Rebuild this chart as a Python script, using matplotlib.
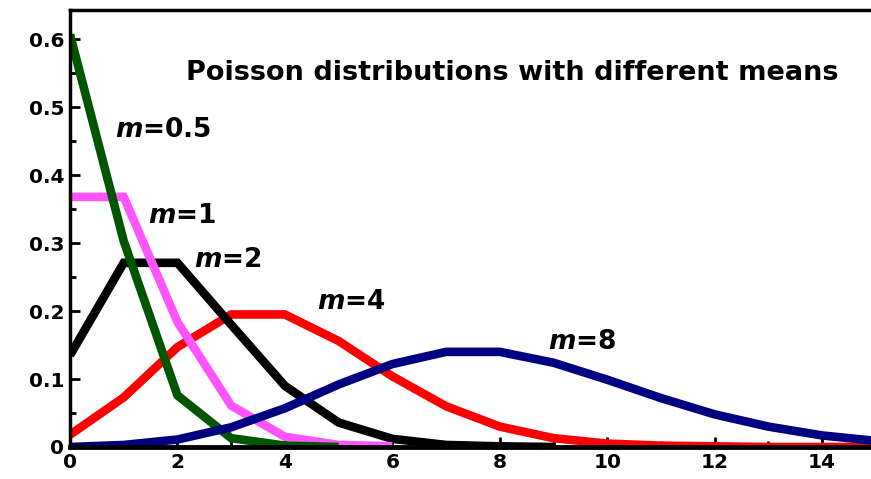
import matplotlib
matplotlib.use("Agg")
import matplotlib.pyplot as plt
from matplotlib.ticker import MultipleLocator, FixedLocator

# Data
k05 = [0, 1, 2, 3, 4, 5]
p05 = [0.607, 0.303, 0.076, 0.013, 0.002, 0.000]
k1 = [0, 1, 2, 3, 4, 5, 6]
p1 = [0.368, 0.368, 0.184, 0.061, 0.015, 0.003, 0.001]
k2 = [0, 1, 2, 3, 4, 5, 6, 7, 8, 9]
p2 = [0.135, 0.271, 0.271, 0.180, 0.090, 0.036, 0.012, 0.003, 0.001, 0.000]
k4 = list(range(16))
p4 = [0.018, 0.073, 0.147, 0.195, 0.195, 0.156, 0.104, 0.060, 0.030, 0.013,
      0.005, 0.002, 0.001, 0.000, 0.000, 0.000]
k8 = list(range(16))
p8 = [0.000, 0.003, 0.011, 0.029, 0.057, 0.092, 0.122, 0.140, 0.140, 0.124,
      0.099, 0.072, 0.048, 0.030, 0.017, 0.009]

series = [
    (k4, p4, "#ff0000"),
    (k2, p2, "#000000"),
    (k1, p1, "#ff55ff"),
    (k05, p05, "#005500"),
    (k8, p8, "#000080"),
]
labels = [("m=0.5", 0.84, 0.466), ("m=1", 1.45, 0.34), ("m=2", 2.3, 0.275),
          ("m=4", 4.6, 0.213), ("m=8", 8.9, 0.155)]
title = "Poisson distributions with different means"
xticks = [0, 2, 4, 6, 8, 10, 12, 14]
yticks = [0, 0.1, 0.2, 0.3, 0.4, 0.5, 0.6]
ytick_labels = ["0", "0.1", "0.2", "0.3", "0.4", "0.5", "0.6"]

fig = plt.figure(figsize=(8.71, 4.79), dpi=100)
ax = fig.add_axes([70 / 871, (479 - 447) / 479, 1 - 70 / 871, (447 - 10) / 479])

for i, (k, p, c) in enumerate(series):
    ax.plot(k, p, color=c, lw=6.2, solid_joinstyle="miter", solid_capstyle="butt",
            zorder=2 + i, clip_on=True)

ax.set_xlim(0, 14.91)
ax.set_ylim(0, 0.643)

ax.xaxis.set_major_locator(FixedLocator(xticks))
ax.xaxis.set_minor_locator(MultipleLocator(1))
ax.yaxis.set_major_locator(FixedLocator(yticks))
ax.yaxis.set_minor_locator(MultipleLocator(0.05))
ax.set_yticklabels(ytick_labels)
ax.tick_params(which="both", direction="in", width=2, top=False, right=False)
ax.tick_params(which="major", length=7, labelsize=14.5, pad=4)
ax.tick_params(which="minor", length=4)
for lab in ax.get_xticklabels() + ax.get_yticklabels():
    lab.set_fontweight("bold")

ax.spines["right"].set_visible(False)
ax.spines["left"].set_linewidth(2.5)
ax.spines["top"].set_linewidth(2.5)
ax.spines["bottom"].set_linewidth(3.5)
for s in ax.spines.values():
    s.set_zorder(10)

for txt, x, y in labels:
    name, val = txt.split("=")
    ax.text(x, y, r"$\mathbfit{m}$" + "=" + val, fontsize=19,
            fontweight="bold", ha="left", va="center", zorder=20)

ax.text(8.23, 0.55, title, fontsize=19.5, fontweight="bold", ha="center",
        va="center", zorder=20)

fig.savefig("out.png", dpi=100)
